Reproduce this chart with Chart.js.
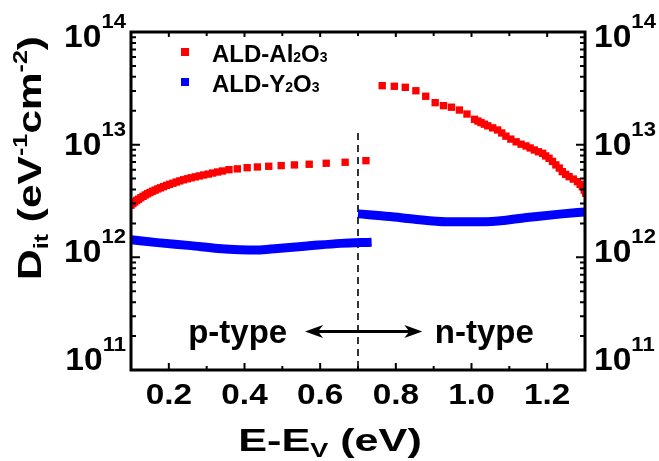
<!DOCTYPE html>
<html>
<head>
<meta charset="utf-8">
<script src="https://cdn.jsdelivr.net/npm/chart.js@4.4.1/dist/chart.umd.min.js"></script>
<style>
  html, body { margin: 0; padding: 0; background: #fff; }
  #caja { width: 659px; height: 461px; }
</style>
</head>
<body>
<div id="caja"><canvas id="grafico" width="659" height="461"></canvas></div>
<script>
// ---- datos ----
const seriesNames = ["ALD-Al2O3", "ALD-Y2O3"];

// Al2O3, lado p (0.1 - 0.72 eV)
const al2o3X_p = [0.100, 0.105, 0.110, 0.115, 0.120, 0.126, 0.132, 0.138, 0.144, 0.150,
  0.157, 0.164, 0.171, 0.178, 0.186, 0.194, 0.202, 0.211, 0.220, 0.229,
  0.239, 0.249, 0.259, 0.270, 0.281, 0.292, 0.304, 0.316, 0.329, 0.342,
  0.359, 0.381, 0.407, 0.434, 0.464, 0.497, 0.532, 0.571, 0.616, 0.666, 0.721];
const al2o3Y_p = [2.90e12, 3.00e12, 3.10e12, 3.20e12, 3.28e12, 3.38e12, 3.48e12, 3.58e12, 3.67e12, 3.76e12,
  3.86e12, 3.95e12, 4.05e12, 4.14e12, 4.24e12, 4.35e12, 4.45e12, 4.55e12, 4.66e12, 4.77e12,
  4.88e12, 4.98e12, 5.08e12, 5.18e12, 5.28e12, 5.38e12, 5.48e12, 5.60e12, 5.72e12, 5.84e12,
  6.00e12, 6.10e12, 6.25e12, 6.34e12, 6.43e12, 6.52e12, 6.61e12, 6.70e12, 6.84e12, 6.98e12, 7.21e12];

// Al2O3, lado n (0.76 - 1.3 eV)
const al2o3X_n = [0.764, 0.796, 0.825, 0.853, 0.879, 0.904, 0.926, 0.947, 0.968, 0.988,
  1.008, 1.017, 1.025, 1.034, 1.043, 1.056, 1.069, 1.080, 1.091, 1.104,
  1.118, 1.131, 1.144, 1.155, 1.166, 1.177, 1.188, 1.196, 1.205, 1.214,
  1.223, 1.232, 1.240, 1.249, 1.258, 1.269, 1.280, 1.287, 1.293, 1.298, 1.302];
const al2o3Y_n = [3.34e13, 3.30e13, 3.23e13, 3.01e13, 2.69e13, 2.36e13, 2.22e13, 2.15e13, 2.03e13, 1.87e13,
  1.68e13, 1.62e13, 1.57e13, 1.52e13, 1.47e13, 1.41e13, 1.35e13, 1.27e13, 1.19e13, 1.12e13,
  1.06e13, 1.01e13, 9.74e12, 9.35e12, 8.97e12, 8.65e12, 8.38e12, 7.95e12, 7.57e12, 7.10e12,
  6.61e12, 6.20e12, 5.76e12, 5.45e12, 5.20e12, 4.95e12, 4.70e12, 4.45e12, 4.24e12, 3.95e12, 3.70e12];

// Y2O3, lado p y lado n
const y2o3X_p = [0.100, 0.170, 0.258, 0.330, 0.434, 0.487, 0.566, 0.654, 0.736];
const y2o3Y_p = [1.43e12, 1.35e12, 1.27e12, 1.20e12, 1.16e12, 1.20e12, 1.26e12, 1.33e12, 1.36e12];
const y2o3X_n = [0.700, 0.784, 0.845, 0.933, 1.039, 1.153, 1.240, 1.300];
const y2o3Y_n = [2.43e12, 2.30e12, 2.19e12, 2.07e12, 2.07e12, 2.27e12, 2.43e12, 2.53e12];

// ejes
const xMin = 0.1, xMax = 1.3;
const yMin = 1e11, yMax = 1e14;
const xTickValues = [0.2, 0.4, 0.6, 0.8, 1.0, 1.2];
const xTickLabels = ["0.2", "0.4", "0.6", "0.8", "1.0", "1.2"];
const xMinorValues = [0.1, 0.3, 0.5, 0.7, 0.9, 1.1, 1.3];
const yTickValues = [1e11, 1e12, 1e13, 1e14];
const yTickExps = ["11", "12", "13", "14"];

// anotaciones (en unidades de datos)
const corteX = 0.7, corteYTop = 1.27e13;
const flechaX1 = 0.56, flechaX2 = 0.87, flechaY = 2.2e11;
const textoY = 1.74e11, pTipoX = 0.382, nTipoX = 1.034;

const ROJO = "#ff0000", AZUL = "#0000ff";
const FAM = '"Liberation Sans", Arial, Helvetica, sans-serif';

function puntos(xs, ys) { return xs.map((x, i) => ({ x: x, y: ys[i] })); }

// texto con sub/superindices: partes = [texto, tamano, desplazamiento]
function textoRico(ctx, partes, x, y, align, sx) {
  sx = sx || 1;
  let w = 0;
  partes.forEach(p => { ctx.font = "bold " + p[1] + "px " + FAM; w += ctx.measureText(p[0]).width; });
  let x0 = align === "center" ? x - w * sx / 2 : (align === "right" ? x - w * sx : x);
  ctx.save();
  ctx.translate(x0, y);
  ctx.scale(sx, 1);
  ctx.textAlign = "left";
  ctx.textBaseline = "alphabetic";
  ctx.fillStyle = "#000";
  let cx = 0;
  partes.forEach(p => {
    ctx.font = "bold " + p[1] + "px " + FAM;
    ctx.fillText(p[0], cx, p[2] || 0);
    cx += ctx.measureText(p[0]).width;
  });
  ctx.restore();
}

const marcos = {
  id: "marcos",
  beforeDatasetsDraw(chart) {
    const ctx = chart.ctx, xs = chart.scales.x, ys = chart.scales.y;
    // linea discontinua en 0.7 eV
    ctx.save();
    ctx.strokeStyle = "#000";
    ctx.lineWidth = 1.6;
    ctx.setLineDash([7, 5]);
    ctx.beginPath();
    ctx.moveTo(xs.getPixelForValue(corteX), ys.getPixelForValue(corteYTop));
    ctx.lineTo(xs.getPixelForValue(corteX), ys.getPixelForValue(yMin));
    ctx.stroke();
    ctx.restore();
  },
  afterDraw(chart) {
    const ctx = chart.ctx, a = chart.chartArea, xs = chart.scales.x, ys = chart.scales.y;
    ctx.save();
    ctx.strokeStyle = "#000";
    ctx.fillStyle = "#000";

    // ticks hacia dentro
    ctx.lineWidth = 2;
    ctx.beginPath();
    xTickValues.forEach(v => {
      const px = xs.getPixelForValue(v);
      ctx.moveTo(px, a.bottom); ctx.lineTo(px, a.bottom - 7);
      ctx.moveTo(px, a.top); ctx.lineTo(px, a.top + 5);
    });
    xMinorValues.forEach(v => {
      const px = xs.getPixelForValue(v);
      ctx.moveTo(px, a.bottom); ctx.lineTo(px, a.bottom - 4);
      ctx.moveTo(px, a.top); ctx.lineTo(px, a.top + 4);
    });
    yTickValues.forEach(v => {
      const py = ys.getPixelForValue(v);
      ctx.moveTo(a.left, py); ctx.lineTo(a.left + 9, py);
      ctx.moveTo(a.right, py); ctx.lineTo(a.right - 9, py);
    });
    for (let d = 11; d < 14; d++) {
      for (let m = 2; m <= 9; m++) {
        const py = ys.getPixelForValue(m * Math.pow(10, d));
        ctx.moveTo(a.left, py); ctx.lineTo(a.left + 5, py);
        ctx.moveTo(a.right, py); ctx.lineTo(a.right - 5, py);
      }
    }
    ctx.stroke();

    // marco
    ctx.lineWidth = 3;
    ctx.strokeRect(a.left, a.top, a.right - a.left, a.bottom - a.top);

    // etiquetas eje x
    xTickValues.forEach((v, i) => {
      textoRico(ctx, [[xTickLabels[i], 29, 0]], xs.getPixelForValue(v), 404, "center", 1.15);
    });
    // etiquetas eje y (izquierda y derecha)
    yTickValues.forEach((v, i) => {
      const py = ys.getPixelForValue(v);
      const base = 47 + (py - a.top) * 0.9556;
      const partes = [["10", 32, 0], [yTickExps[i], 21, -19]];
      textoRico(ctx, partes, a.left - 5, base, "right", 1.05);
      textoRico(ctx, partes, a.right + 9, base, "left", 1.05);
    });

    // titulos
    textoRico(ctx, [["E-E", 32, 0], ["V", 20, 6], [" (eV)", 32, 0]], 330, 451, "center", 1.35);
    ctx.save();
    ctx.translate(41, 158);
    ctx.rotate(-Math.PI / 2);
    textoRico(ctx, [["D", 34, 0], ["it", 20, 7], [" (eV", 34, 0], ["-1", 20, -14],
      ["cm", 34, 0], ["-2", 20, -14], [")", 34, 0]], 0, 0, "center", 1.25);
    ctx.restore();

    // leyenda
    const leyenda = [
      { color: ROJO, y: 52, partes: [["ALD-Al", 24, 0], ["2", 14, 0], ["O", 24, 0], ["3", 14, 0]] },
      { color: AZUL, y: 82, partes: [["ALD-Y", 24, 0], ["2", 14, 0], ["O", 24, 0], ["3", 14, 0]] }
    ];
    leyenda.forEach(l => {
      ctx.fillStyle = l.color;
      ctx.fillRect(181, l.y - 4, 8, 8);
      textoRico(ctx, l.partes, 212, l.y + 10, "left", 1);
    });

    // flecha doble
    const fx1 = xs.getPixelForValue(flechaX1), fx2 = xs.getPixelForValue(flechaX2);
    const fy = ys.getPixelForValue(flechaY);
    ctx.lineWidth = 3;
    ctx.beginPath();
    ctx.moveTo(fx1 + 8, fy); ctx.lineTo(fx2 - 8, fy);
    ctx.stroke();
    ctx.fillStyle = "#000";
    ctx.beginPath();
    ctx.moveTo(fx1, fy); ctx.lineTo(fx1 + 18, fy - 6.5); ctx.lineTo(fx1 + 13, fy); ctx.lineTo(fx1 + 18, fy + 6.5);
    ctx.closePath(); ctx.fill();
    ctx.beginPath();
    ctx.moveTo(fx2, fy); ctx.lineTo(fx2 - 18, fy - 6.5); ctx.lineTo(fx2 - 13, fy); ctx.lineTo(fx2 - 18, fy + 6.5);
    ctx.closePath(); ctx.fill();

    const ty = ys.getPixelForValue(textoY);
    textoRico(ctx, [["p-type", 33, 0]], xs.getPixelForValue(pTipoX), ty, "center", 1);
    textoRico(ctx, [["n-type", 33, 0]], xs.getPixelForValue(nTipoX), ty, "center", 1);
    ctx.restore();
  }
};

const ctx = document.getElementById("grafico").getContext("2d");
new Chart(ctx, {
  type: "scatter",
  data: {
    datasets: [
      { label: seriesNames[0], data: puntos(al2o3X_p, al2o3Y_p), pointStyle: "rect",
        pointRadius: 5.2, borderWidth: 0, backgroundColor: ROJO, showLine: false },
      { label: seriesNames[0], data: puntos(al2o3X_n, al2o3Y_n), pointStyle: "rect",
        pointRadius: 5.2, borderWidth: 0, backgroundColor: ROJO, showLine: false },
      { label: seriesNames[1], data: puntos(y2o3X_p, y2o3Y_p), showLine: true, pointRadius: 0,
        borderColor: AZUL, borderWidth: 9, tension: 0.4, cubicInterpolationMode: "monotone" },
      { label: seriesNames[1], data: puntos(y2o3X_n, y2o3Y_n), showLine: true, pointRadius: 0,
        borderColor: AZUL, borderWidth: 9, tension: 0.4, cubicInterpolationMode: "monotone" }
    ]
  },
  options: {
    responsive: false,
    animation: false,
    layout: { padding: { left: 131, right: 74, top: 32, bottom: 91 } },
    scales: {
      x: { type: "linear", min: xMin, max: xMax, display: false },
      y: { type: "logarithmic", min: yMin, max: yMax, display: false }
    },
    plugins: { legend: { display: false }, tooltip: { enabled: false } }
  },
  plugins: [marcos]
});
</script>
</body>
</html>
